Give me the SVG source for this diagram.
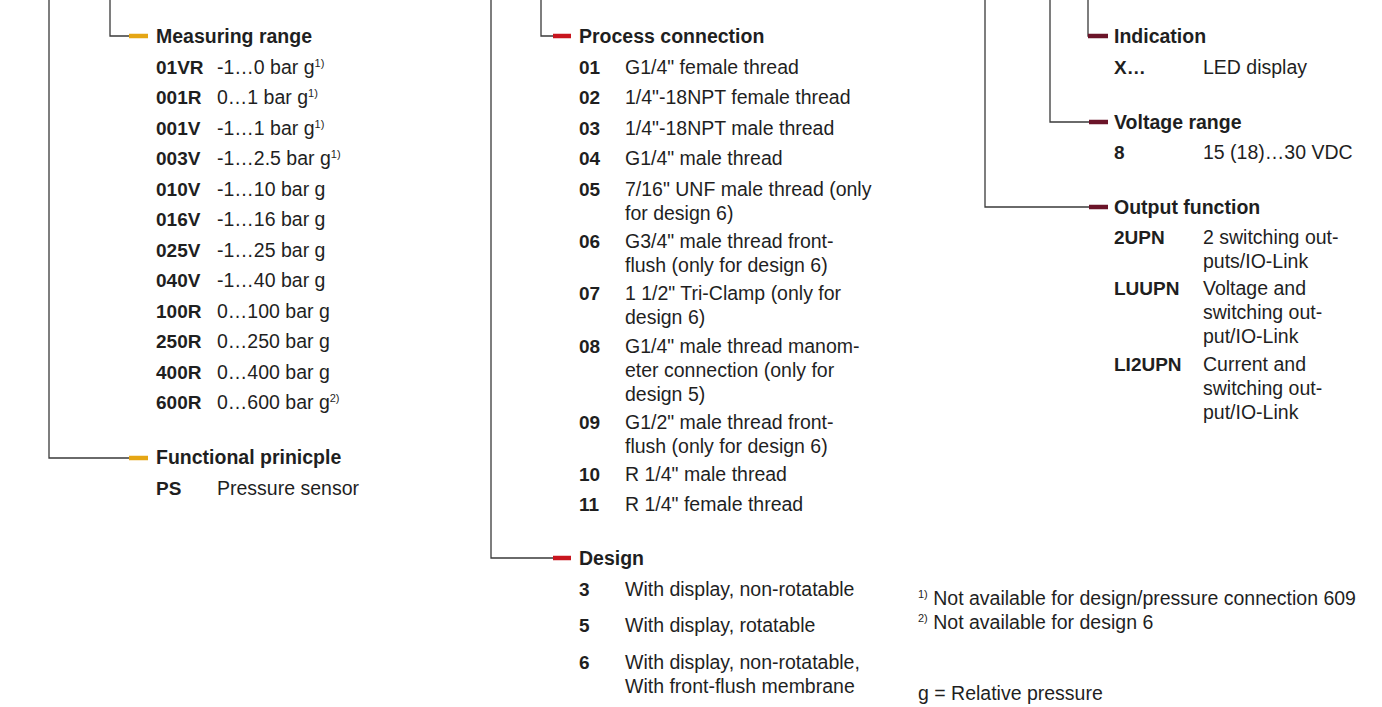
<svg xmlns="http://www.w3.org/2000/svg" width="1382" height="707" viewBox="0 0 1382 707">
<style>
text{font-family:"Liberation Sans",Arial,sans-serif;fill:#1f1f1f;font-size:19.5px}
.h{font-weight:bold;font-size:19.5px}
.c{font-weight:bold;font-size:19px}
.s{font-size:11px}
.ln{fill:none;stroke:#3a3a3a;stroke-width:1.3}
.y{stroke:#e5a614;stroke-width:4.5}
.r{stroke:#c8151e;stroke-width:4.5}
.m{stroke:#6b1429;stroke-width:4.5}
</style>
<rect width="1382" height="707" fill="#fff"/>
<g id="connectors">
<path class="ln" d="M49 0V458H130"/>
<path class="ln" d="M110 0V36H130"/>
<path class="ln" d="M491 0V558H553"/>
<path class="ln" d="M541 0V36H553"/>
<path class="ln" d="M985 0V207H1090"/>
<path class="ln" d="M1050 0V122H1090"/>
<path class="ln" d="M1088 0V36H1090"/>
<line class="y" x1="129" y1="36" x2="148" y2="36"/>
<line class="y" x1="129" y1="458" x2="148" y2="458"/>
<line class="r" x1="553" y1="36" x2="571" y2="36"/>
<line class="r" x1="553" y1="558" x2="571" y2="558"/>
<line class="m" x1="1088" y1="36" x2="1108" y2="36"/>
<line class="m" x1="1089" y1="122" x2="1108" y2="122"/>
<line class="m" x1="1089" y1="207" x2="1108" y2="207"/>
</g>
<g id="measuring-range">
<text class="h" x="156" y="43">Measuring range</text>
<text class="c" x="156" y="74">01VR</text><text x="217" y="74">-1…0 bar g<tspan class="s" dy="-7">1)</tspan></text>
<text class="c" x="156" y="104">001R</text><text x="217" y="104">0…1 bar g<tspan class="s" dy="-7">1)</tspan></text>
<text class="c" x="156" y="135">001V</text><text x="217" y="135">-1…1 bar g<tspan class="s" dy="-7">1)</tspan></text>
<text class="c" x="156" y="165">003V</text><text x="217" y="165">-1…2.5 bar g<tspan class="s" dy="-7">1)</tspan></text>
<text class="c" x="156" y="196">010V</text><text x="217" y="196">-1…10 bar g</text>
<text class="c" x="156" y="226">016V</text><text x="217" y="226">-1…16 bar g</text>
<text class="c" x="156" y="257">025V</text><text x="217" y="257">-1…25 bar g</text>
<text class="c" x="156" y="287">040V</text><text x="217" y="287">-1…40 bar g</text>
<text class="c" x="156" y="318">100R</text><text x="217" y="318">0…100 bar g</text>
<text class="c" x="156" y="348">250R</text><text x="217" y="348">0…250 bar g</text>
<text class="c" x="156" y="379">400R</text><text x="217" y="379">0…400 bar g</text>
<text class="c" x="156" y="409">600R</text><text x="217" y="409">0…600 bar g<tspan class="s" dy="-7">2)</tspan></text>
</g>
<g id="functional-principle">
<text class="h" x="156" y="464">Functional prinicple</text>
<text class="c" x="156" y="495">PS</text><text x="217" y="495">Pressure sensor</text>
</g>
<g id="process-connection">
<text class="h" x="579" y="43">Process connection</text>
<text class="c" x="579" y="74">01</text><text x="625" y="74">G1/4" female thread</text>
<text class="c" x="579" y="104">02</text><text x="625" y="104">1/4"-18NPT female thread</text>
<text class="c" x="579" y="135">03</text><text x="625" y="135">1/4"-18NPT male thread</text>
<text class="c" x="579" y="165">04</text><text x="625" y="165">G1/4" male thread</text>
<text class="c" x="579" y="196">05</text><text x="625" y="196">7/16" UNF male thread (only</text><text x="625" y="220">for design 6)</text>
<text class="c" x="579" y="248">06</text><text x="625" y="248">G3/4" male thread front-</text><text x="625" y="272">flush (only for design 6)</text>
<text class="c" x="579" y="300">07</text><text x="625" y="300">1 1/2" Tri-Clamp (only for</text><text x="625" y="324">design 6)</text>
<text class="c" x="579" y="353">08</text><text x="625" y="353">G1/4" male thread manom-</text><text x="625" y="377">eter connection (only for</text><text x="625" y="401">design 5)</text>
<text class="c" x="579" y="429">09</text><text x="625" y="429">G1/2" male thread front-</text><text x="625" y="453">flush (only for design 6)</text>
<text class="c" x="579" y="481">10</text><text x="625" y="481">R 1/4" male thread</text>
<text class="c" x="579" y="511">11</text><text x="625" y="511">R 1/4" female thread</text>
</g>
<g id="design">
<text class="h" x="579" y="565">Design</text>
<text class="c" x="579" y="596">3</text><text x="625" y="596">With display, non-rotatable</text>
<text class="c" x="579" y="632">5</text><text x="625" y="632">With display, rotatable</text>
<text class="c" x="579" y="669">6</text><text x="625" y="669">With display, non-rotatable,</text><text x="625" y="693">With front-flush membrane</text>
</g>
<g id="indication">
<text class="h" x="1114" y="43">Indication</text>
<text class="c" x="1114" y="74">X…</text><text x="1203" y="74">LED display</text>
</g>
<g id="voltage-range">
<text class="h" x="1114" y="129">Voltage range</text>
<text class="c" x="1114" y="159">8</text><text x="1203" y="159">15 (18)…30 VDC</text>
</g>
<g id="output-function">
<text class="h" x="1114" y="214">Output function</text>
<text class="c" x="1114" y="244">2UPN</text><text x="1203" y="244">2 switching out-</text><text x="1203" y="268">puts/IO-Link</text>
<text class="c" x="1114" y="295">LUUPN</text><text x="1203" y="295">Voltage and</text><text x="1203" y="319">switching out-</text><text x="1203" y="343">put/IO-Link</text>
<text class="c" x="1114" y="371">LI2UPN</text><text x="1203" y="371">Current and</text><text x="1203" y="395">switching out-</text><text x="1203" y="419">put/IO-Link</text>
</g>
<g id="notes">
<text x="918" y="605"><tspan class="s" dy="-7">1)</tspan><tspan dy="7"> Not available for design/pressure connection 609</tspan></text>
<text x="918" y="629"><tspan class="s" dy="-7">2)</tspan><tspan dy="7"> Not available for design 6</tspan></text>
<text x="918" y="700">g = Relative pressure</text>
</g>
</svg>
